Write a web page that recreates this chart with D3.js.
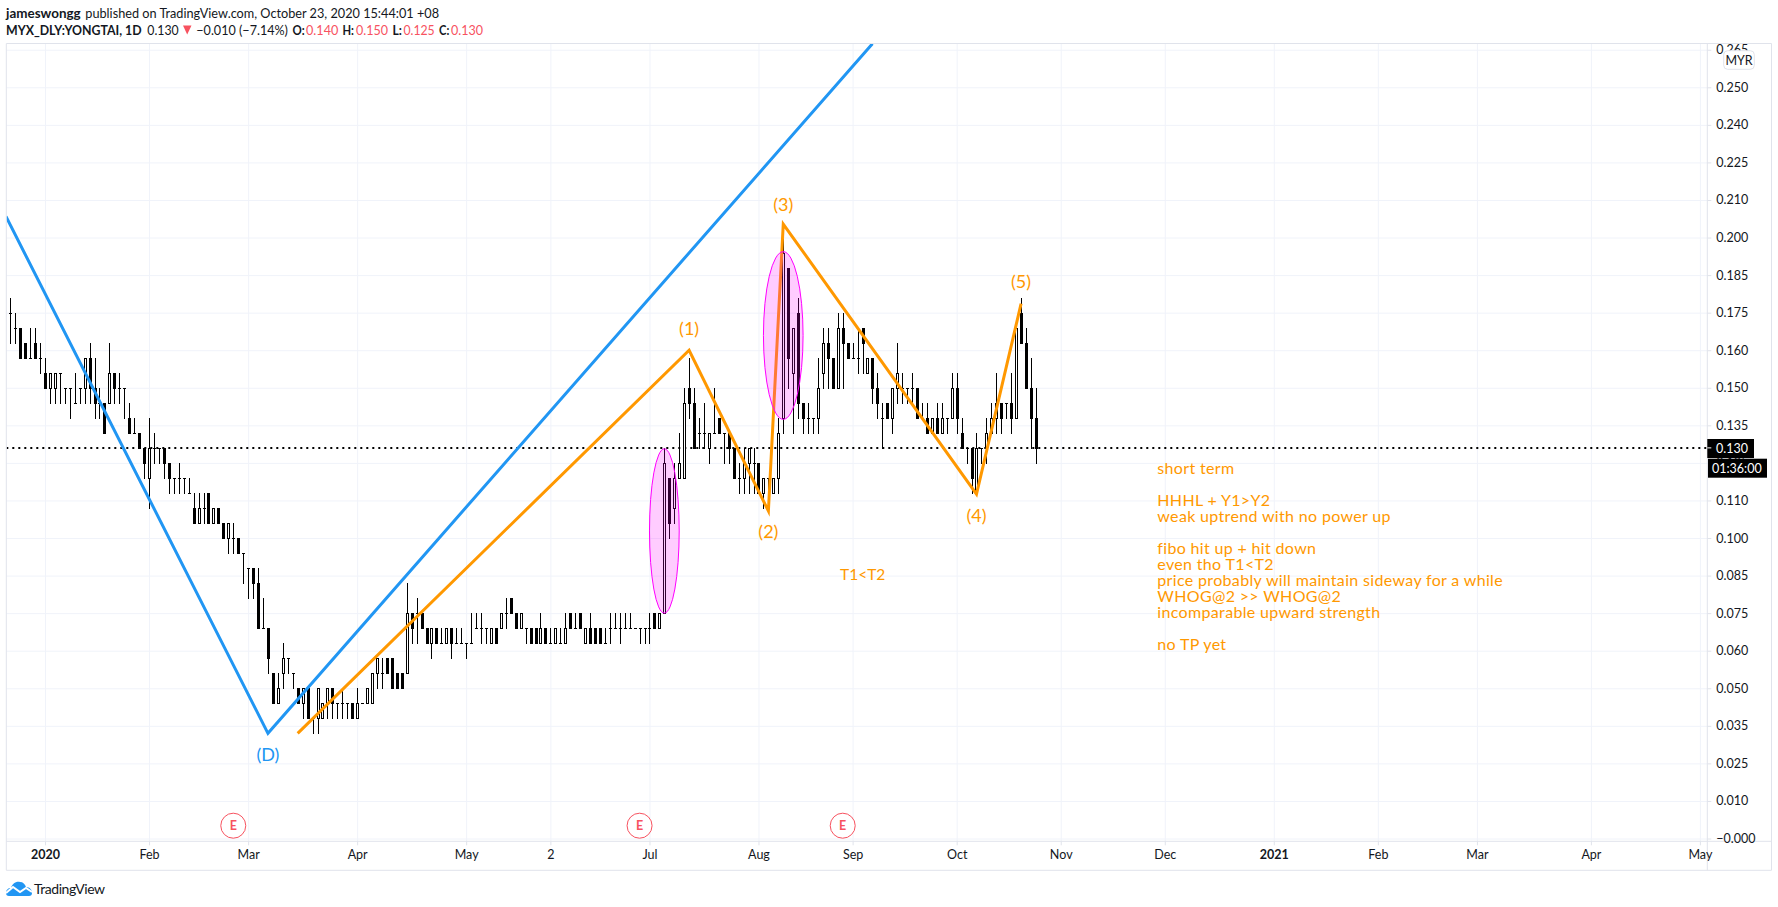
<!DOCTYPE html>
<html><head><meta charset="utf-8">
<script src="https://cdn.jsdelivr.net/npm/d3@7/dist/d3.min.js"></script>
<style>html,body{margin:0;padding:0;background:#fff;overflow:hidden}svg{display:block}text{font-family:Lato,"Open Sans",sans-serif}</style>
</head><body><svg id="c" width="1778" height="907"></svg>
<script>
const opens=[.175,.17,.17,.165,.16,.165,.16,.155,.15,.15,.155,.15,.15,.145,.15,.15,.16,.15,.145,.145,
.145,.155,.15,.15,.14,.135,.135,.13,.12,.13,.13,.13,.125,.12,.12,.12,.115,.11,.105,.11,
.115,.105,.11,.105,.10,.10,.10,.095,.09,.09,.085,.07,.07,.055,.045,.055,.06,.055,.05,.045,
.05,.04,.04,.04,.045,.05,.045,.045,.045,.045,.04,.045,.045,.045,.055,.055,.06,.06,.055,.055,
.055,.075,.075,.075,.07,.065,.07,.065,.065,.07,.065,.065,.065,.065,.07,.07,.07,.065,.07,.07,
.075,.08,.075,.07,.07,.07,.07,.065,.07,.065,.065,.065,.065,.075,.07,.075,.065,.07,.07,.07,
.065,.07,.07,.07,.07,.07,.07,.07,.07,.07,.075,.07,
.075,.12,.11,.12,.12,.15,.145,.135,.135,.13,.135,.14,.135,.135,.13,.12,.12,.125,.125,.125,.115,.12,.115,.12,
.14,.19,.155,.175,.145,.14,.14,.14,.155,.165,.16,.15,.17,.165,.16,.16,.17,.155,.16,.15,
.14,.145,.14,.15,.15,.15,.15,.15,.14,.14,.135,.14,.135,.14,.14,.15,.135,.13,.13,.115,.13,.13,.135,.14,.145,.145,.145,.14,.175,.165,.15,.14];
const highs=[.18,.175,.17,.165,.17,.17,.165,.16,.155,.155,.155,.15,.15,.155,.15,.16,.165,.16,.15,.145,
.165,.155,.155,.15,.145,.14,.135,.13,.14,.135,.13,.13,.125,.12,.125,.12,.12,.115,.115,.115,
.115,.11,.11,.105,.105,.105,.10,.095,.09,.09,.09,.08,.07,.055,.055,.065,.06,.055,.05,.05,
.05,.04,.05,.045,.05,.05,.045,.05,.045,.045,.05,.045,.05,.055,.06,.06,.06,.06,.055,.055,
.085,.075,.08,.075,.07,.07,.07,.07,.07,.07,.07,.07,.065,.075,.075,.075,.07,.07,.07,.075,
.08,.08,.075,.075,.07,.07,.07,.075,.07,.07,.07,.07,.075,.075,.075,.075,.07,.075,.07,.07,
.07,.075,.075,.075,.075,.075,.07,.07,.07,.075,.075,.075,
.13,.12,.125,.135,.15,.16,.15,.14,.145,.135,.15,.14,.135,.135,.13,.125,.13,.13,.13,.125,.12,.12,.12,.14,
.205,.19,.17,.18,.145,.145,.14,.16,.17,.17,.16,.175,.175,.165,.165,.17,.17,.16,.16,.155,
.145,.145,.15,.165,.155,.15,.155,.15,.145,.145,.14,.145,.145,.14,.155,.155,.14,.13,.13,.135,.13,.14,.145,.155,.145,.145,.155,.17,.18,.17,.16,.15];
const lows=[.165,.165,.16,.16,.16,.16,.155,.15,.145,.145,.145,.145,.14,.145,.145,.145,.145,.14,.14,.135,
.145,.145,.145,.14,.135,.135,.13,.12,.11,.125,.125,.12,.115,.115,.115,.115,.115,.105,.105,.105,
.105,.105,.105,.10,.095,.095,.095,.085,.08,.08,.07,.07,.055,.045,.045,.05,.055,.05,.045,.04,
.04,.035,.035,.04,.04,.04,.04,.04,.04,.04,.04,.045,.045,.045,.05,.05,.055,.05,.05,.05,
.055,.065,.065,.07,.065,.06,.065,.065,.065,.06,.065,.065,.06,.065,.07,.065,.065,.065,.065,.07,
.07,.075,.07,.07,.065,.065,.065,.065,.065,.065,.065,.065,.065,.07,.07,.07,.065,.065,.065,.065,
.065,.065,.07,.065,.07,.07,.07,.065,.065,.065,.07,.07,
.075,.10,.105,.12,.12,.14,.13,.13,.13,.125,.135,.135,.125,.125,.12,.115,.115,.115,.115,.115,.11,.11,.115,.115,
.135,.15,.135,.14,.135,.135,.135,.135,.15,.15,.15,.15,.15,.16,.16,.155,.155,.155,.145,.14,
.13,.14,.135,.145,.145,.145,.145,.14,.14,.135,.135,.135,.135,.135,.14,.135,.13,.125,.115,.115,.125,.125,.135,.135,.135,.14,.135,.14,.165,.15,.13,.125];
const closes=[.175,.17,.16,.16,.16,.16,.16,.15,.155,.155,.155,.15,.15,.145,.15,.16,.15,.145,.145,.135,
.155,.15,.15,.15,.135,.135,.13,.125,.13,.13,.13,.125,.12,.12,.12,.12,.115,.105,.11,.11,
.105,.11,.105,.10,.105,.10,.095,.095,.09,.085,.07,.07,.06,.045,.05,.06,.06,.055,.045,.05,
.04,.04,.05,.045,.05,.045,.045,.045,.045,.04,.045,.045,.05,.055,.06,.055,.055,.05,.05,.05,
.075,.07,.075,.07,.065,.07,.065,.065,.07,.065,.065,.065,.065,.065,.07,.07,.07,.07,.065,.075,
.075,.075,.07,.075,.07,.065,.065,.07,.065,.065,.07,.065,.07,.07,.07,.07,.07,.065,.065,.065,
.065,.07,.07,.07,.07,.07,.07,.07,.07,.07,.07,.075,
.125,.105,.12,.125,.145,.145,.13,.135,.135,.135,.135,.135,.135,.13,.12,.12,.125,.13,.125,.115,.12,.12,.12,.135,
.195,.16,.17,.145,.14,.14,.14,.15,.165,.16,.15,.17,.165,.16,.16,.16,.165,.16,.15,.145,
.14,.14,.15,.155,.15,.15,.15,.14,.14,.135,.14,.135,.14,.14,.15,.14,.13,.13,.12,.13,.13,.135,.14,.145,.14,.145,.14,.17,.165,.15,.14,.13];

const yTickValues=d3.range(0,22).map(i=>i*0.0125);
const yTickLabels=["−0.000","0.010","0.025","0.035","0.050","0.060","0.075","0.085","0.100","0.110","0.125","0.135","0.150","0.160","0.175","0.185","0.200","0.210","0.225","0.240","0.250","0.265"];
const monthBars=[7,28,48,70,92,109,129,151,170,191,212,233,255,276,296,319,341];
const monthLabels=["2020","Feb","Mar","Apr","May","2","Jul","Aug","Sep","Oct","Nov","Dec","2021","Feb","Mar","Apr","May"];
const boldMonths=["2020","2021"];
const earningsBars=[45,127,168];
const blueWave=[[-0.87,.207],[52,.035],[174,.2645]];
const orangeWave=[[58,.035],[137,.1625],[153,.109],[156,.2045],[195,.1146],[204,.178]];
const ellipses=[{bar:132,half:3,top:.1297,bottom:.075},{bar:156,half:4,top:.1953,bottom:.1395}];
const waveLabels=[["(D)",52,.0282,"#2196f3"],["(1)",137,.1698,"#ff9800"],["(2)",153,.1022,"#ff9800"],["(3)",156,.2112,"#ff9800"],["(4)",195,.1078,"#ff9800"],["(5)",204,.1855,"#ff9800"]];
const lastPrice=.13;
const noteLines=["short term","","HHHL + Y1>Y2","weak uptrend with no power up","","fibo hit up + hit down","even tho T1<T2","price probably will maintain sideway for a while","WHOG@2 >> WHOG@2","incomparable upward strength","","no TP yet"];

const L=6.3,T=43.5,R=1707.3,B=841.3,RE=1771.5,BE=870.3;
const x=d3.scaleLinear().domain([0,341]).range([10.3,1699.9]);
const y=d3.scaleLinear().domain([0,.25]).range([838.5,87.3]);
const svg=d3.select("#c");
const GRID="#f0f3fa",FRAME="#e0e3eb",INK="#131722",ORANGE="#ff9800",RED="#f7525f";
const px=v=>Math.round(v)+.5;
svg.append("defs").append("clipPath").attr("id","pane").append("rect").attr("x",L).attr("y",T).attr("width",R-L).attr("height",B-T);

// grid
const gh=svg.append("g").attr("transform",`translate(${L},0)`).call(d3.axisRight(y).tickValues(yTickValues).tickSize(R-L).tickFormat(""));
gh.select(".domain").remove();gh.selectAll("line").attr("stroke",GRID);
const gv=svg.append("g").attr("transform",`translate(0,${T})`).call(d3.axisBottom(x).tickValues(monthBars).tickSize(B-T).tickFormat(""));
gv.select(".domain").remove();gv.selectAll("line").attr("stroke",GRID);

const pane=svg.append("g").attr("clip-path","url(#pane)");
// price line
pane.append("line").attr("x1",L).attr("x2",R).attr("y1",y(lastPrice)).attr("y2",y(lastPrice)).attr("stroke","#000").attr("stroke-width",2).attr("stroke-dasharray","2 4");

// bars
const bars=d3.range(opens.length);
const yr=v=>Math.round(y(v));
const g=pane.append("g");
g.selectAll("line.w").data(bars).join("line").attr("class","w")
 .attr("x1",i=>px(x(i))).attr("x2",i=>px(x(i))).attr("y1",i=>yr(highs[i])).attr("y2",i=>yr(lows[i])+1).attr("stroke","#000").attr("stroke-width",1);
const up=bars.filter(i=>closes[i]>opens[i]),down=bars.filter(i=>closes[i]<opens[i]),flat=bars.filter(i=>closes[i]===opens[i]);
g.selectAll("rect.dn").data(down).join("rect").attr("class","dn")
 .attr("x",i=>px(x(i))-1.5).attr("width",3)
 .attr("y",i=>yr(opens[i])).attr("height",i=>yr(closes[i])-yr(opens[i])+1).attr("fill","#000");
g.selectAll("rect.up").data(up).join("rect").attr("class","up")
 .attr("x",i=>px(x(i))-1).attr("width",2)
 .attr("y",i=>yr(closes[i])+.5).attr("height",i=>yr(opens[i])-yr(closes[i]))
 .attr("fill","#fff").attr("stroke","#000").attr("stroke-width",1);
g.selectAll("line.d").data(flat).join("line").attr("class","d")
 .attr("x1",i=>px(x(i))-1.5).attr("x2",i=>px(x(i))+1.5).attr("y1",i=>yr(opens[i])+.5).attr("y2",i=>yr(opens[i])+.5).attr("stroke","#000");

// waves
const ln=d3.line().x(d=>x(d[0])).y(d=>y(d[1]));
pane.append("path").attr("d",ln(blueWave)).attr("fill","none").attr("stroke","#2196f3").attr("stroke-width",3);
pane.append("path").attr("d",ln(orangeWave)).attr("fill","none").attr("stroke",ORANGE).attr("stroke-width",3);
pane.selectAll("ellipse").data(ellipses).join("ellipse")
 .attr("cx",d=>x(d.bar)).attr("rx",d=>x(d.bar+d.half)-x(d.bar))
 .attr("cy",d=>(y(d.top)+y(d.bottom))/2).attr("ry",d=>(y(d.bottom)-y(d.top))/2)
 .attr("fill","rgba(255,0,255,.2)").attr("stroke","#f0f").attr("stroke-width",1);

// wave labels & notes
pane.selectAll("text.wl").data(waveLabels).join("text").attr("class","wl").attr("x",d=>x(d[1])).attr("y",d=>y(d[2])).attr("text-anchor","middle").attr("dominant-baseline","central")
 .attr("font-size",18).attr("fill",d=>d[3]).text(d=>d[0]);
pane.append("text").attr("x",840).attr("y",574).attr("dominant-baseline","central").attr("font-size",15.5).attr("fill",ORANGE).text("T1<T2");
pane.selectAll("text.n").data(noteLines).join("text").attr("class","n").attr("x",1157.3).attr("y",(d,i)=>467+i*16).attr("dominant-baseline","central").attr("font-size",16).attr("letter-spacing",.34).attr("fill",ORANGE).text(d=>d);

// earnings
const eg=pane.selectAll("g.e").data(earningsBars).join("g").attr("class","e").attr("transform",d=>`translate(${x(d)},825.7)`);
eg.append("circle").attr("r",12.5).attr("fill","#fff").attr("stroke",RED).attr("stroke-width",1);
eg.append("text").attr("text-anchor","middle").attr("dominant-baseline","central").attr("font-size",12.5).attr("font-weight",700).attr("fill",RED).text("E");

// frame
svg.append("path").attr("d",`M${L},${BE}V${T}H${RE}V${BE}H${L}M${L},${B}H${RE}M${R},${T}V${BE}`).attr("fill","none").attr("stroke",FRAME);

// axes
const ya=svg.append("g").attr("transform",`translate(${R},0)`).call(d3.axisRight(y).tickValues(yTickValues).tickSize(4).tickPadding(5).tickFormat((d,i)=>yTickLabels[i]));
ya.select(".domain").remove();ya.selectAll("line").attr("stroke",FRAME);ya.selectAll("text").attr("font-family","Lato").attr("font-size",12.5).attr("fill",INK);
const xa=svg.append("g").attr("transform",`translate(0,${B})`).call(d3.axisBottom(x).tickValues(monthBars).tickSize(4).tickPadding(5).tickFormat((d,i)=>monthLabels[i]));
xa.select(".domain").remove();xa.selectAll("line").attr("stroke",FRAME);xa.selectAll("text").attr("font-family","Lato").attr("font-size",12.5).attr("fill",INK).attr("font-weight",(d,i)=>boldMonths.includes(monthLabels[i])?700:400);

// currency box
svg.append("rect").attr("x",1723.7).attr("y",50.7).attr("width",30.6).attr("height",18.6).attr("rx",4).attr("fill","#fff").attr("stroke",FRAME);
svg.append("text").attr("x",1739).attr("y",60).attr("text-anchor","middle").attr("dominant-baseline","central").attr("font-size",12.5).attr("fill",INK).text("MYR");

// last price labels
svg.append("rect").attr("x",R).attr("y",439).attr("width",46.7).attr("height",19).attr("fill","#000");
svg.append("line").attr("x1",R).attr("x2",R+4).attr("y1",y(lastPrice)).attr("y2",y(lastPrice)).attr("stroke","#fff");
svg.append("text").attr("x",1716).attr("y",448.5).attr("dominant-baseline","central").attr("font-size",12.5).attr("fill","#fff").text("0.130");
svg.append("rect").attr("x",1708).attr("y",458.7).attr("width",59).attr("height",19).attr("fill","#000");
svg.append("text").attr("x",1712).attr("y",468.2).attr("dominant-baseline","central").attr("font-size",12.5).attr("fill","#fff").text("01:36:00");

// header
const head=(t,xx,w,yy,opt={})=>svg.append("text").attr("x",xx).attr("y",yy).attr("textLength",w).attr("lengthAdjust","spacingAndGlyphs").attr("font-size",13.5).attr("font-weight",opt.b?700:400).attr("fill",opt.c||INK).text(t);
head("jameswongg",6,74.7,17.5,{b:1});
head("published on TradingView.com, October 23, 2020 15:44:01 +08",85.3,353.7,17.5);
head("MYX_DLY:YONGTAI, 1D",6,135.6,34.5,{b:1});
head("0.130",147.3,31.4,34.5);
svg.append("path").attr("d","M183,25.5H191.5L187.2,34.5Z").attr("fill",RED);
head("−0.010 (−7.14%)",196.3,91.7,34.5);
head("O:",292.4,12.2,34.5,{b:1});head("0.140",306,32.3,34.5,{c:RED});
head("H:",342.5,11.5,34.5,{b:1});head("0.150",356,32,34.5,{c:RED});
head("L:",392.6,9.4,34.5,{b:1});head("0.125",403.4,31.3,34.5,{c:RED});
head("C:",439,10.3,34.5,{b:1});head("0.130",451,32,34.5,{c:RED});

// footer logo
const lg=svg.append("g").attr("transform","translate(6,881)");
lg.append("path").attr("d","M0,12C0,9 2,7 5,7C6,3 10,0 14,1C17,1 19,3 20,6C24,6 26,9 26,12C26,14 25,15 23,15H3C1,15 0,14 0,12Z").attr("fill","#2196f3");
lg.append("path").attr("d","M0,12L7,6L14,11L20,7L26,11").attr("fill","none").attr("stroke","#fff").attr("stroke-width",2);
svg.append("text").attr("x",34).attr("y",888.7).attr("dominant-baseline","central").attr("font-size",14).attr("fill",INK).attr("textLength",71).text("TradingView");
</script></body></html>
